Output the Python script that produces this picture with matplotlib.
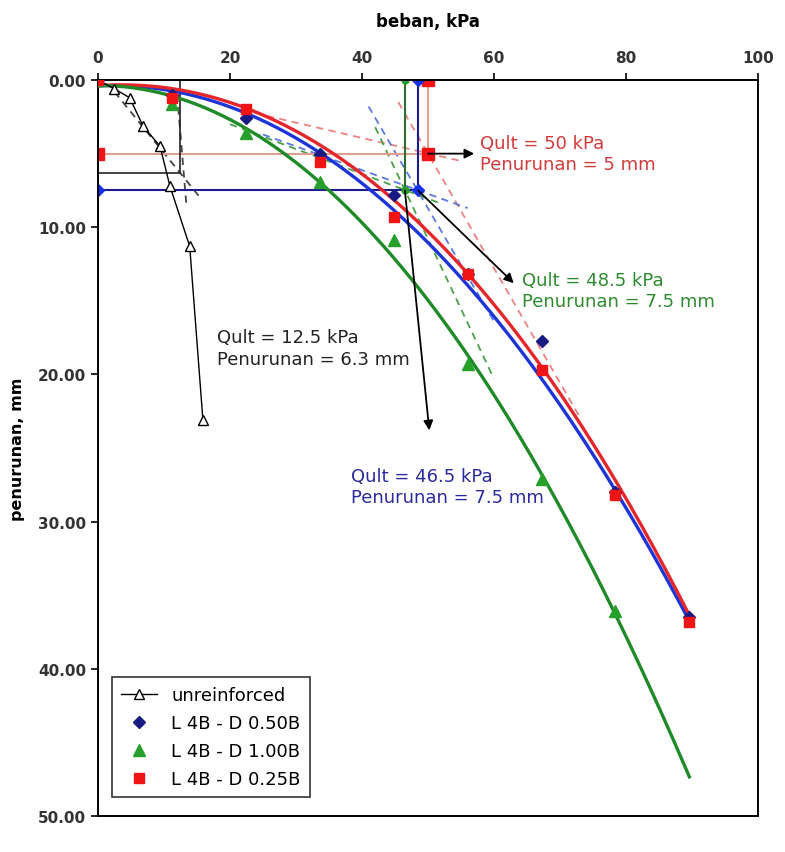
import numpy as np
import matplotlib
matplotlib.use("Agg")
import matplotlib.pyplot as plt

plt.rcParams["font.family"] = ["DejaVu Sans"]

# load steps (kPa) and settlements (mm)
load = [0, 11.2, 22.4, 33.6, 44.8, 56.0, 67.2, 78.4, 89.6]
settle_050 = [0, 1.0, 2.6, 5.0, 7.8, 13.2, 17.7, 28.0, 36.5]
settle_100 = [0, 1.6, 3.6, 6.9, 10.9, 19.3, 27.1, 36.1]
settle_025 = [0, 1.2, 2.0, 5.6, 9.3, 13.2, 19.7, 28.2, 36.8]

# trend curves as drawn on the chart, read at the load steps
trend_050 = [0.3, 0.9, 2.3, 4.8, 8.9, 13.8, 20.2, 28.2, 36.6]
trend_025 = [0.3, 0.8, 1.8, 4.2, 8.4, 13.1, 19.3, 27.4, 36.3]

unreinf_load = [0, 2.5, 4.8, 6.8, 9.4, 10.9, 13.9, 15.9]
unreinf_settle = [0, 0.6, 1.2, 3.1, 4.5, 7.2, 11.3, 23.1]

# ultimate load construction (Qult, settlement)
qult_red = (50.0, 5.0)
qult_blue = (48.5, 7.5)
qult_green = (46.5, 7.5)
qult_black = (12.5, 6.3)

# tangent lines: (x0, y0, x1, y1)
tangents_red = [(20, 1.85, 55, 5.5), (45.5, 1.5, 73, 22.9)]
tangents_blue = [(25, 3.7, 56, 8.7), (41, 1.8, 60, 16.4)]
tangents_green = [(20, 3.0, 52, 8.4), (42, 3.2, 60, 20.3)]
tangents_black = [(2.5, 0.8, 15.5, 8.0), (12.0, 1.0, 13.4, 8.5)]

# arrows: (start x, start y, end x, end y)
arrows = [(50, 5, 57, 5), (48.5, 7.5, 63, 13.8), (46.5, 7.5, 50.2, 23.8)]

labels = [
    ("Qult = 50 kPa\nPenurunan = 5 mm", 57.9, 5.0, "#d23a3a"),
    ("Qult = 48.5 kPa\nPenurunan = 7.5 mm", 64.3, 14.3, "#2e8b2e"),
    ("Qult = 12.5 kPa\nPenurunan = 6.3 mm", 18.0, 18.2, "#222222"),
    ("Qult = 46.5 kPa\nPenurunan = 7.5 mm", 38.3, 27.6, "#2a2aa0"),
]

BLUE_LINE, BLUE_MK = "#1c34d8", "#1a1a84"
GREEN_LINE, GREEN_MK = "#1f8a28", "#26a02a"
RED_LINE, RED_MK = "#e5262a", "#f01414"

fig = plt.figure(figsize=(7.85, 8.53), dpi=100)
ax = fig.add_axes([0.1248, 0.0422, 0.8408, 0.8628])

# trend curves, smoothed with a polynomial through the read values
xs = np.linspace(0, 89.6, 200)
for ys, c in [(trend_050, BLUE_LINE), (trend_025, RED_LINE)]:
    p = np.polyfit(load, ys, 3)
    ax.plot(xs, np.polyval(p, xs), color=c, lw=2.4, zorder=3)
# green trendline is fitted to its points and runs on to the last load step
p = np.polyfit(load[:len(settle_100)], settle_100, 2)
ax.plot(xs, np.polyval(p, xs), color=GREEN_LINE, lw=2.4, zorder=3)

# tangent construction lines
for segs, c in [(tangents_red, "#f08080"), (tangents_blue, "#5a78e0"),
                (tangents_green, "#4aa04a"), (tangents_black, "#444444")]:
    for x0, y0, x1, y1 in segs:
        ax.plot([x0, x1], [y0, y1], ls=(0, (4, 3)), color=c, lw=1.3, zorder=2)

# Qult guide lines
qx, qy = qult_red
ax.plot([0, qx, qx], [qy, qy, 0], color="#e0a090", lw=1.5, zorder=2,
        marker="s", ms=8, mfc=RED_MK, mec=RED_MK)
qx, qy = qult_blue
ax.plot([0, qx, qx], [qy, qy, 0], color="#1c1c90", lw=1.5, zorder=2,
        marker="D", ms=6, mfc="#1430e8", mec="#1430e8")
qx, qy = qult_green
ax.plot([qx, qx], [qy, 0], color="#2e6e2e", lw=1.5, zorder=2,
        marker="o", ms=5, mfc=GREEN_MK, mec=GREEN_MK)
qx, qy = qult_black
ax.plot([0, qx, qx], [qy, qy, 0], color="#222222", lw=1.2, zorder=2)

# data points
ax.plot(unreinf_load, unreinf_settle, color="black", lw=1.0, marker="^",
        ms=7, mfc="white", mec="black", label="unreinforced", zorder=4)
ax.plot(load, settle_050, ls="none", marker="D", ms=6, color=BLUE_MK,
        label="L 4B - D 0.50B", zorder=4)
ax.plot(load[:len(settle_100)], settle_100, ls="none", marker="^", ms=8,
        color=GREEN_MK, label="L 4B - D 1.00B", zorder=4)
ax.plot(load, settle_025, ls="none", marker="s", ms=7.5, color=RED_MK,
        label="L 4B - D 0.25B", zorder=5)

for x0, y0, x1, y1 in arrows:
    ax.annotate("", xy=(x1, y1), xytext=(x0, y0), zorder=6,
                arrowprops=dict(arrowstyle="-|>", color="black", lw=1.3,
                                mutation_scale=14, shrinkA=0, shrinkB=0))

for txt, x, y, c in labels:
    ax.text(x, y, txt, color=c, fontsize=13, va="center", ha="left",
            linespacing=1.25, zorder=7)

ax.set_xlim(0, 100)
ax.set_ylim(50, 0)
ax.set_xticks(range(0, 101, 20))
ax.set_yticks(range(0, 51, 10))
ax.set_yticklabels([f"{v:.2f}" for v in range(0, 51, 10)])
ax.xaxis.tick_top()
ax.tick_params(axis="both", direction="out", length=5, width=1.2,
               labelsize=11, labelcolor="#333333")
for lab in ax.get_xticklabels() + ax.get_yticklabels():
    lab.set_fontweight("bold")
ax.tick_params(axis="x", pad=6)
for sp in ax.spines.values():
    sp.set_linewidth(1.4)

fig.text(0.545, 1 - 22 / 853, "beban, kPa", ha="center", va="center",
         fontsize=12, fontweight="bold")
ax.set_ylabel("penurunan, mm", fontsize=11.5, fontweight="bold")
ax.yaxis.set_label_coords(-0.11, 0.5)

leg = ax.legend(loc="lower left", bbox_to_anchor=(0.021, 0.026),
                borderaxespad=0, fontsize=13, frameon=True, fancybox=False,
                handlelength=2.0, labelspacing=0.55, borderpad=0.5)
leg.get_frame().set_edgecolor("black")
leg.get_frame().set_linewidth(1.2)

fig.savefig("out.png", dpi=100)
